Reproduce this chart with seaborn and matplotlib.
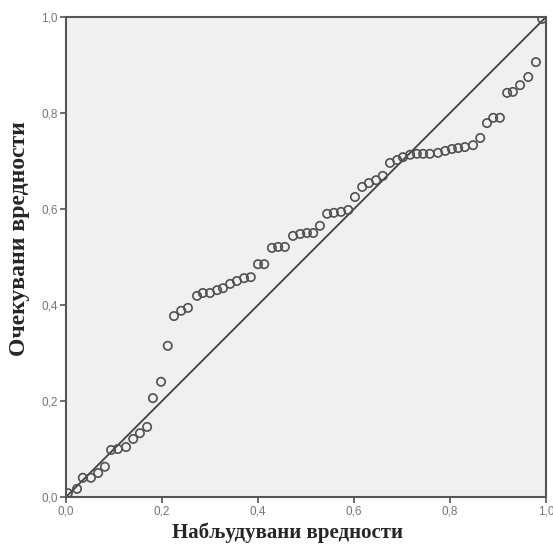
import matplotlib
matplotlib.use("Agg")
import matplotlib.pyplot as plt
import seaborn as sns
import pandas as pd
from matplotlib.ticker import FuncFormatter

# DATA
observed = [0.004, 0.023, 0.035, 0.052, 0.067, 0.081, 0.094, 0.108, 0.125, 0.140,
            0.154, 0.169, 0.181, 0.198, 0.212, 0.225, 0.240, 0.254, 0.273, 0.285,
            0.300, 0.315, 0.327, 0.342, 0.356, 0.371, 0.385, 0.400, 0.413, 0.429,
            0.442, 0.456, 0.473, 0.488, 0.502, 0.515, 0.529, 0.544, 0.558, 0.573,
            0.588, 0.602, 0.617, 0.631, 0.646, 0.660, 0.675, 0.690, 0.702, 0.717,
            0.731, 0.744, 0.758, 0.775, 0.790, 0.804, 0.817, 0.831, 0.848, 0.863,
            0.877, 0.890, 0.904, 0.919, 0.931, 0.946, 0.963, 0.979, 0.992]
expected = [0.008, 0.017, 0.040, 0.040, 0.050, 0.063, 0.098, 0.100, 0.104, 0.121,
            0.133, 0.146, 0.206, 0.240, 0.315, 0.377, 0.388, 0.394, 0.419, 0.425,
            0.425, 0.431, 0.435, 0.444, 0.450, 0.456, 0.458, 0.485, 0.485, 0.519,
            0.521, 0.521, 0.544, 0.548, 0.550, 0.550, 0.565, 0.590, 0.592, 0.594,
            0.598, 0.625, 0.646, 0.654, 0.660, 0.669, 0.696, 0.702, 0.708, 0.713,
            0.715, 0.715, 0.715, 0.717, 0.721, 0.725, 0.727, 0.729, 0.733, 0.748,
            0.779, 0.790, 0.790, 0.842, 0.844, 0.858, 0.875, 0.906, 0.996]
ref_line = [0.0, 1.0]
ticks = [0.0, 0.2, 0.4, 0.6, 0.8, 1.0]

df = pd.DataFrame({"observed": observed, "expected": expected})

sns.set_style("ticks")
plt.rcParams["font.family"] = ["Liberation Sans", "DejaVu Sans"]

fig = plt.figure(figsize=(5.53, 5.47), dpi=100)
ax = fig.add_axes([66 / 553, 50 / 547, 480 / 553, 480 / 547])
ax.set_facecolor("#f0f0f0")

# reference diagonal
sns.lineplot(x=ref_line, y=ref_line, ax=ax, color="#404040", linewidth=1.3)

# observed vs expected
sns.scatterplot(data=df, x="observed", y="expected", ax=ax, s=36,
                facecolors="none", edgecolor="#505050", linewidth=1.2, zorder=3)

ax.set_xlim(0, 1)
ax.set_ylim(0, 1)
ax.set_xticks(ticks)
ax.set_yticks(ticks)
fmt = FuncFormatter(lambda v, p: f"{v:.1f}".replace(".", ","))
ax.xaxis.set_major_formatter(fmt)
ax.yaxis.set_major_formatter(fmt)
ax.tick_params(length=4, width=1.2, color="#555555", labelsize=8.5,
               labelcolor="#777777", pad=2)

for sp in ax.spines.values():
    sp.set_visible(True)
    sp.set_color("#555555")
    sp.set_linewidth(1.5)

ax.set_xlabel("Набљудувани вредности", family=["Liberation Serif"],
              fontweight="bold", fontsize=15)
ax.set_ylabel("Очекувани вредности", family=["Liberation Serif"],
              fontweight="bold", fontsize=17)
ax.xaxis.set_label_coords(0.4625, -0.054)
ax.yaxis.set_label_coords(-0.075, 0.5375)

fig.savefig("out.png", dpi=100)
